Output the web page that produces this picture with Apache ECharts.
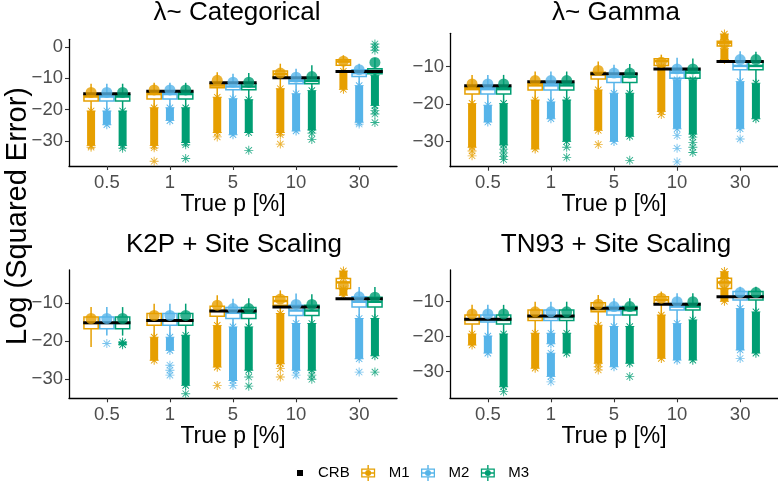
<!DOCTYPE html>
<html><head><meta charset="utf-8">
<script src="https://cdn.jsdelivr.net/npm/echarts@6/dist/echarts.min.js"></script>
<style>html,body{margin:0;padding:0;background:#fff}#c{width:778px;height:484px}</style>
</head><body><div id="c"></div>
<script>
const categories = ['0.5','1','5','10','30'];
const methods = ['M1','M2','M3'];
const colors = ['#E69F00','#56B4E9','#009E73'];
const panelTitles = ['λ~ Categorical','λ~ Gamma','K2P + Site Scaling','TN93 + Site Scaling'];
const yTicks = [[0,-10,-20,-30],[-10,-20,-30],[-10,-20,-30],[-10,-20,-30]];

// ---- Panel 1: λ~ Categorical ----
const crbCat = [-14.9, -14.1, -11.4, -9.8, -7.8];
// rows: [lower whisker, q1, median, q3, upper whisker]
const boxCatM1 = [[-20.2,-17.2,-15.8,-15.2,-11.7],[-19.2,-16.6,-15.0,-14.4,-11.4],[-15.8,-13.0,-12.3,-11.7,-8.0],[-13.0,-9.6,-8.6,-7.6,-5.3],[-7.5,-5.8,-4.6,-4.0,-2.6]];
const boxCatM2 = [[-20.2,-17.2,-15.8,-15.2,-11.7],[-19.2,-16.6,-15.0,-14.4,-11.4],[-16.3,-13.6,-12.6,-11.7,-8.5],[-14.7,-11.7,-10.8,-10.1,-6.9],[-12.1,-9.4,-8.3,-7.2,-5.3]];
const boxCatM3 = [[-20.2,-17.2,-15.8,-15.2,-11.7],[-19.2,-16.6,-15.0,-14.4,-11.4],[-16.5,-13.6,-12.6,-11.7,-8.3],[-13.7,-11.7,-10.8,-10.1,-5.8],[-8.8,-8.5,-7.6,-6.9,-3.5]];
const meanCat = [[-14.5,-13.7,-10.6,-8.3,-4.5],[-14.5,-13.7,-11.2,-9.6,-7.2],[-14.5,-13.7,-11.2,-9.4,-4.9]];
// dense outlier runs: [method, category, top, bottom]
const bandCat = [[0,0,-20.4,-31.5],[1,0,-20.4,-24.8],[2,0,-20.4,-31.5],[0,1,-19.4,-31.5],[1,1,-19.4,-23.5],[2,1,-19.4,-30.5],[0,2,-16.0,-27.3],[1,2,-16.5,-28.0],[2,2,-16.8,-27.3],[0,3,-13.3,-27.3],[1,3,-14.9,-26.8],[2,3,-13.9,-26.5],[0,4,-7.7,-13.5],[1,4,-12.3,-24.0],[2,4,-9.0,-18.7]];
// isolated outliers: [method, category, value]
const outCat = [[0,0,-32.0],[2,0,-32.3],[0,1,-32.2],[0,1,-36.5],[2,1,-31.2],[2,1,-35.6],[0,2,-28.7],[2,2,-33.0],[0,3,-28.0],[0,3,-31.0],[2,3,-27.5],[2,3,-29.5],[1,4,-24.6],[2,4,1.0],[2,4,0.0],[2,4,-1.0],[2,4,-20.3],[2,4,-21.4],[2,4,-24.1]];

// ---- Panel 2: λ~ Gamma ----
const crbGam = [-15.1, -14.0, -11.9, -10.6, -8.6];
const boxGamM1 = [[-19.6,-17.3,-16.0,-15.5,-12.2],[-18.7,-16.2,-15.0,-14.4,-11.3],[-16.0,-13.3,-12.1,-11.5,-8.6],[-9.8,-9.7,-8.5,-7.9,-6.8],[-5.0,-4.5,-3.6,-3.2,-2.8]];
const boxGamM2 = [[-20.1,-17.3,-16.0,-15.5,-12.2],[-19.2,-16.2,-15.0,-14.4,-11.3],[-16.9,-14.2,-12.7,-11.9,-9.5],[-13.3,-13.1,-11.6,-11.0,-7.6],[-13.8,-10.8,-9.8,-8.6,-5.9]];
const boxGamM3 = [[-19.6,-17.3,-16.0,-15.5,-12.2],[-18.7,-16.2,-15.0,-14.4,-11.3],[-16.9,-14.2,-12.7,-11.9,-9.3],[-13.3,-13.1,-11.6,-11.0,-7.8],[-14.2,-10.8,-9.8,-8.6,-6.0]];
const meanGam = [[-14.6,-13.7,-11.0,-8.8,-3.8],[-14.6,-13.7,-11.7,-10.6,-8.1],[-14.6,-13.7,-11.7,-10.6,-8.1]];
const bandGam = [[0,0,-19.8,-31.5],[1,0,-20.3,-24.8],[2,0,-19.8,-30.9],[0,1,-18.9,-32.0],[1,1,-19.4,-23.9],[2,1,-18.9,-30.0],[0,2,-16.2,-27.0],[1,2,-17.1,-30.0],[2,2,-17.1,-28.6],[0,3,-10.0,-22.0],[1,3,-13.5,-26.6],[2,3,-13.5,-28.0],[0,4,-1.3,-2.8],[0,4,-5.2,-8.1],[1,4,-14.0,-26.6],[2,4,-14.4,-23.9]];
const outGam = [[0,0,-32.5],[0,0,-33.8],[2,0,-32.0],[2,0,-33.0],[2,0,-34.0],[2,0,-34.8],[2,1,-31.5],[2,1,-34.2],[0,2,-30.8],[2,2,-35.0],[0,3,-22.8],[1,3,-28.4],[1,3,-31.8],[1,3,-35.4],[2,3,-28.8],[2,3,-30.2],[2,3,-31.5],[2,3,-32.9],[1,4,-29.3]];

// ---- Panel 3: K2P + Site Scaling ----
const crbK2p = [-15.1, -14.5, -12.0, -11.0, -8.8];
const boxK2pM1 = [[-21.5,-16.7,-15.2,-13.6,-11.0],[-18.7,-15.8,-14.5,-12.7,-10.1],[-15.6,-13.4,-12.0,-10.8,-7.9],[-12.5,-10.5,-9.4,-8.3,-6.6],[-6.2,-6.1,-4.5,-3.5,-3.4]];
const boxK2pM2 = [[-18.5,-16.7,-15.2,-13.6,-11.0],[-18.7,-15.8,-14.5,-12.7,-10.1],[-16.0,-14.0,-12.5,-11.1,-8.8],[-15.1,-13.2,-11.9,-10.5,-7.4],[-13.8,-11.0,-9.6,-8.3,-5.7]];
const boxK2pM3 = [[-18.5,-16.7,-15.2,-13.6,-11.0],[-18.2,-15.8,-14.5,-12.7,-10.1],[-16.0,-14.0,-12.5,-11.1,-8.7],[-15.1,-13.2,-11.9,-10.5,-7.6],[-13.8,-11.0,-9.6,-8.4,-5.7]];
const meanK2p = [[-14.0,-13.2,-10.5,-8.9,-5.3],[-14.0,-13.2,-11.4,-10.3,-8.3],[-14.0,-13.2,-11.4,-10.3,-8.4]];
const bandK2p = [[2,0,-20.2,-20.9],[0,1,-18.9,-25.0],[1,1,-18.9,-22.4],[2,1,-18.4,-31.6],[0,2,-15.8,-26.8],[1,2,-16.2,-30.3],[2,2,-16.2,-27.6],[0,3,-12.7,-25.9],[1,3,-15.3,-27.6],[2,3,-15.3,-27.6],[0,4,-1.5,-3.3],[0,4,-6.3,-7.9],[1,4,-14.0,-24.6],[2,4,-14.0,-23.8]];
const outK2p = [[1,0,-20.6],[1,1,-26.3],[1,1,-27.6],[1,1,-28.9],[2,1,-33.8],[0,2,-31.6],[1,2,-31.6],[2,2,-29.4],[2,2,-31.8],[0,3,-27.2],[0,3,-29.4],[1,3,-28.9],[2,3,-28.9],[2,3,-30.0],[1,4,-28.1],[2,4,-28.1]];

// ---- Panel 4: TN93 + Site Scaling ----
const crbTn = [-15.0, -14.1, -11.9, -10.7, -8.6];
const boxTnM1 = [[-19.0,-16.4,-15.2,-13.8,-10.9],[-18.8,-15.4,-14.4,-12.4,-10.0],[-16.5,-12.9,-12.2,-10.3,-8.1],[-13.6,-10.5,-9.5,-8.6,-7.1],[-6.3,-6.2,-4.5,-3.3,-3.2]];
const boxTnM2 = [[-19.6,-15.8,-15.2,-13.8,-10.9],[-18.8,-15.4,-14.4,-12.4,-10.0],[-16.9,-13.8,-12.4,-11.4,-9.0],[-16.0,-12.4,-11.4,-10.5,-7.6],[-11.7,-9.5,-8.4,-7.1,-5.7]];
const boxTnM3 = [[-19.0,-16.4,-15.2,-13.8,-10.9],[-18.8,-15.4,-14.4,-12.4,-10.0],[-16.9,-13.8,-12.4,-11.4,-9.0],[-15.0,-12.4,-11.4,-10.5,-7.6],[-12.7,-9.5,-8.4,-7.1,-5.7]];
const meanTn = [[-13.5,-12.9,-10.7,-9.0,-4.7],[-13.5,-12.9,-11.4,-10.0,-7.4],[-13.5,-12.9,-11.4,-10.0,-7.4]];
const bandTn = [[0,0,-19.2,-22.4],[1,0,-19.8,-24.7],[2,0,-19.2,-34.3],[0,1,-19.0,-29.0],[1,1,-19.0,-22.0],[1,1,-24.7,-31.4],[2,1,-19.0,-24.7],[0,2,-16.7,-27.6],[1,2,-17.1,-28.6],[2,2,-17.1,-27.6],[0,3,-13.8,-26.2],[1,3,-16.2,-26.7],[2,3,-15.2,-26.7],[0,4,-1.4,-3.1],[0,4,-6.4,-9.9],[1,4,-11.9,-23.8],[2,4,-12.9,-24.7]];
const outTn = [[2,0,-35.7],[1,1,-32.9],[0,2,-28.6],[0,2,-29.5],[2,2,-31.4],[1,4,-26.2]];

const panels = [
  {crb: crbCat, boxes: [boxCatM1, boxCatM2, boxCatM3], means: meanCat, bands: bandCat, outs: outCat},
  {crb: crbGam, boxes: [boxGamM1, boxGamM2, boxGamM3], means: meanGam, bands: bandGam, outs: outGam},
  {crb: crbK2p, boxes: [boxK2pM1, boxK2pM2, boxK2pM3], means: meanK2p, bands: bandK2p, outs: outK2p},
  {crb: crbTn, boxes: [boxTnM1, boxTnM2, boxTnM3], means: meanTn, bands: bandTn, outs: outTn}
];

// ---------- layout / style ----------
const FONT = "'Liberation Sans', Arial, Helvetica, sans-serif";
const dodge = [-0.25, 0, 0.25];
const grids = [
  {left: 69, top: 39.3, width: 328, height: 126.7, min: -38.0, max: 2.5},
  {left: 450, top: 33.3, width: 328, height: 133.4, min: -36.7, max: -1.1},
  {left: 69, top: 270, width: 328, height: 128.3, min: -35.0, max: -1.24},
  {left: 450, top: 270, width: 328, height: 128.3, min: -37.6, max: -0.94}
];
const titlePos = [[237, 13], [616, 13], [234, 245], [616, 245]];

const asteriskPath = 'M9,0H11V20H9Z M0,9H20V11H0Z M3.61,2.19L17.81,16.39L16.39,17.81L2.19,3.61Z M17.81,3.61L3.61,17.81L2.19,16.39L16.39,2.19Z';
const asterisk = 'path://' + asteriskPath;
const mIcon = 'path://M0,0h0.01v0.01h-0.01Z M22.99,15.99h0.01v0.01h-0.01Z M0.5,3.5H14.5V12.5H0.5Z M1.8,4.8V11.2H13.2V4.8Z M0.5,7.3H14.5V8.7H0.5Z M6.8,0H8.2V3.5H6.8Z M6.8,12.5H8.2V16H6.8Z M10.5,8A3,3 0 1,1 4.5,8A3,3 0 1,1 10.5,8Z';
const crbIcon = 'path://M0,0h0.01v0.01h-0.01Z M22.99,15.99h0.01v0.01h-0.01Z M7,5H13V11H7Z';

function renderBox(params, api) {
  const x = api.value(0);
  const low = api.coord([x, api.value(1)]);
  const q1 = api.coord([x, api.value(2)]);
  const med = api.coord([x, api.value(3)]);
  const q3 = api.coord([x, api.value(4)]);
  const high = api.coord([x, api.value(5)]);
  const w = api.size([0.25, 0])[0] - 1.5;
  const c = api.visual('color');
  const cx = q1[0];
  return {type: 'group', children: [
    {type: 'line', shape: {x1: cx, y1: high[1], x2: cx, y2: q3[1]}, style: {stroke: c, lineWidth: 1.5}},
    {type: 'line', shape: {x1: cx, y1: q1[1], x2: cx, y2: low[1]}, style: {stroke: c, lineWidth: 1.5}},
    {type: 'rect', shape: {x: cx - w / 2, y: q3[1], width: w, height: q1[1] - q3[1]}, style: {fill: '#fff', stroke: c, lineWidth: 1.5}},
    {type: 'line', shape: {x1: cx - w / 2, y1: med[1], x2: cx + w / 2, y2: med[1]}, style: {stroke: c, lineWidth: 2.5}}
  ]};
}
function renderBand(params, api) {
  const x = api.value(0);
  const top = api.coord([x, api.value(1)]);
  const bot = api.coord([x, api.value(2)]);
  const c = api.visual('color');
  const s = 9;
  return {type: 'group', children: [
    {type: 'rect', shape: {x: top[0] - 4, y: top[1], width: 8, height: bot[1] - top[1]}, style: {fill: c}},
    {type: 'path', shape: {pathData: asteriskPath, layout: 'center', x: top[0] - s / 2, y: top[1] - s / 2, width: s, height: s}, style: {fill: c}},
    {type: 'path', shape: {pathData: asteriskPath, layout: 'center', x: bot[0] - s / 2, y: bot[1] - s / 2, width: s, height: s}, style: {fill: c}}
  ]};
}
function renderCrb(params, api) {
  const g = api.value(0), v = api.value(1);
  const a = api.coord([g - 0.375, v]);
  const b = api.coord([g + 0.375, v]);
  return {type: 'line', shape: {x1: a[0], y1: a[1], x2: b[0], y2: b[1]}, style: {stroke: '#000', lineWidth: 3}};
}
const fmtY = v => (v < 0 ? '\u2212' + Math.abs(v) : String(v));

const xAxes = [], yAxes = [], gridOpts = [], series = [];
grids.forEach((g, p) => {
  gridOpts.push({left: g.left, top: g.top, width: g.width, height: g.height, containLabel: false});
  xAxes.push({
    type: 'value', gridIndex: p, min: -0.6, max: 4.6,
    axisLine: {show: true, onZero: false, lineStyle: {color: '#000', width: 1.3}},
    axisTick: {show: true, customValues: [0, 1, 2, 3, 4], length: 4, lineStyle: {color: '#333', width: 1.1}},
    axisLabel: {customValues: [0, 1, 2, 3, 4], formatter: v => categories[Math.round(v)], color: '#4D4D4D', fontSize: 18.5, margin: 7, fontFamily: FONT},
    splitLine: {show: false},
    name: 'True p [%]', nameLocation: 'middle', nameGap: 25,
    nameTextStyle: {fontSize: 23, color: '#000', fontFamily: FONT}
  });
  yAxes.push({
    type: 'value', gridIndex: p, min: g.min, max: g.max,
    axisLine: {show: true, onZero: false, lineStyle: {color: '#000', width: 1.3}},
    axisTick: {show: true, customValues: yTicks[p], length: 4, lineStyle: {color: '#333', width: 1.1}},
    axisLabel: {customValues: yTicks[p], formatter: fmtY, color: '#4D4D4D', fontSize: 18.5, margin: 6, fontFamily: FONT},
    splitLine: {show: false}
  });
  const P = panels[p];
  methods.forEach((m, k) => {
    series.push({
      type: 'custom', name: m, xAxisIndex: p, yAxisIndex: p, z: 2,
      itemStyle: {color: colors[k]},
      renderItem: renderBox, encode: {x: 0, y: [1, 2, 3, 4, 5]},
      data: P.boxes[k].map((r, gi) => [gi + dodge[k]].concat(r))
    });
    series.push({
      type: 'custom', name: m, xAxisIndex: p, yAxisIndex: p, z: 2,
      itemStyle: {color: colors[k]},
      renderItem: renderBand, encode: {x: 0, y: [1, 2]},
      data: P.bands.filter(b => b[0] === k).map(b => [b[1] + dodge[k], b[2], b[3]])
    });
    series.push({
      type: 'scatter', name: m, xAxisIndex: p, yAxisIndex: p, z: 2,
      symbol: asterisk, symbolSize: 9, itemStyle: {color: colors[k]},
      data: P.outs.filter(o => o[0] === k).map(o => [o[1] + dodge[k], o[2]])
    });
    series.push({
      type: 'scatter', name: m, xAxisIndex: p, yAxisIndex: p, z: 5,
      symbol: 'circle', symbolSize: 11, itemStyle: {color: colors[k]},
      data: P.means[k].map((v, gi) => [gi + dodge[k], v])
    });
  });
  series.push({
    type: 'custom', name: 'CRB', xAxisIndex: p, yAxisIndex: p, z: 4,
    itemStyle: {color: '#000'}, renderItem: renderCrb, encode: {x: 0, y: 1},
    data: P.crb.map((v, gi) => [gi, v])
  });
});

const graphics = panelTitles.map((t, i) => ({
  type: 'text', x: titlePos[i][0], y: titlePos[i][1], silent: true,
  style: {text: t, fill: '#000', font: '26px ' + FONT, textAlign: 'center', textVerticalAlign: 'middle'}
}));
graphics.push({
  type: 'text', x: 18, y: 216, rotation: Math.PI / 2, silent: true,
  style: {text: 'Log (Squared Error)', fill: '#000', font: '29px ' + FONT, textAlign: 'center', textVerticalAlign: 'middle'}
});

const chart = echarts.init(document.getElementById('c'), null, {renderer: 'canvas'});
chart.setOption({
  animation: false,
  backgroundColor: '#fff',
  textStyle: {fontFamily: FONT},
  grid: gridOpts, xAxis: xAxes, yAxis: yAxes,
  legend: {
    left: 285, top: 460, itemWidth: 23, itemHeight: 16, itemGap: 11,
    selectedMode: false,
    textStyle: {fontSize: 15, color: '#000', fontFamily: FONT},
    data: [{name: 'CRB', icon: crbIcon}, {name: 'M1', icon: mIcon}, {name: 'M2', icon: mIcon}, {name: 'M3', icon: mIcon}]
  },
  graphic: graphics,
  series: series
});
</script></body></html>
